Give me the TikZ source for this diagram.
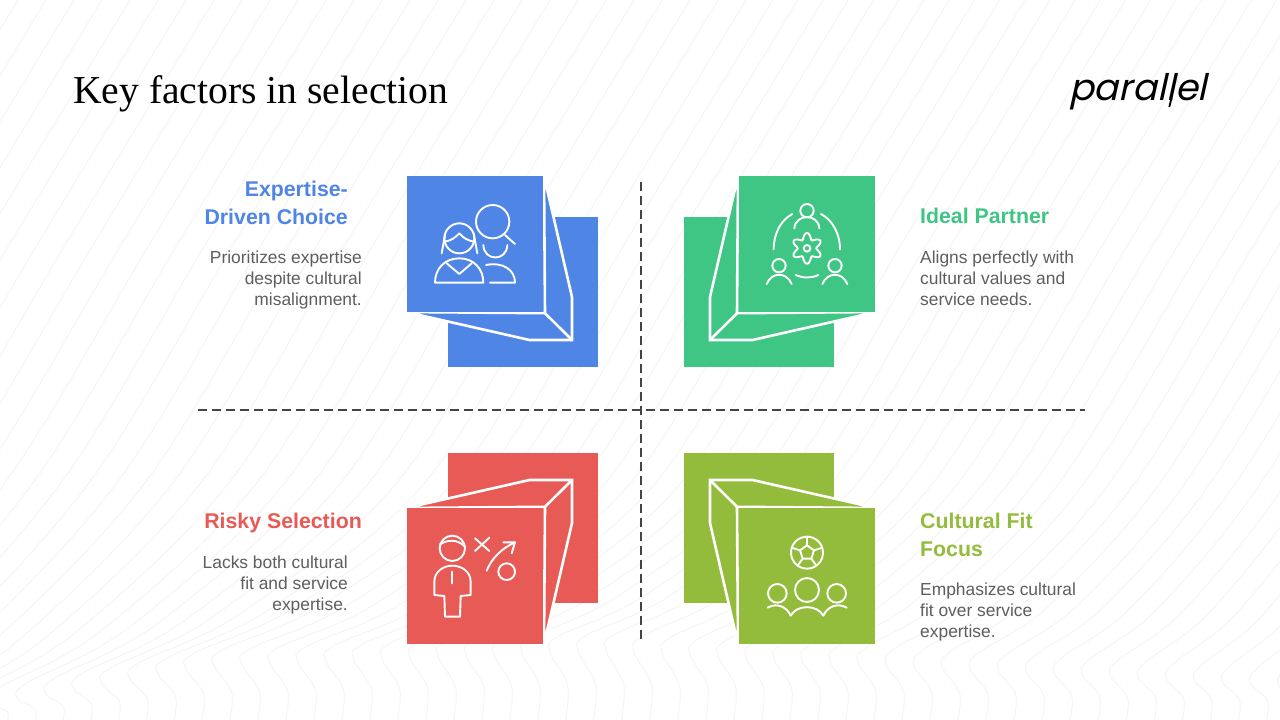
\documentclass[tikz,border=0pt]{standalone}
\usepackage{fontspec}
\setmainfont{Liberation Sans}
\newfontfamily\titlef{Liberation Serif}
\newfontfamily\logof[FakeSlant=0.22]{Poppins}
\definecolor{cblue}{HTML}{4F86E6}
\definecolor{cgreen}{HTML}{3FC584}
\definecolor{cred}{HTML}{E85A55}
\definecolor{colive}{HTML}{94BC3C}
\definecolor{ctext}{HTML}{5E5E5E}
\definecolor{cdash}{HTML}{444444}
\definecolor{cbg}{HTML}{F3F3F3}
\tikzset{
  headtext/.style={inner sep=0pt,font=\fontsize{21.3}{27.5}\selectfont\bfseries},
  bodytext/.style={inner sep=0pt,text=ctext,font=\fontsize{17.4}{21}\selectfont},
  dashline/.style={draw=cdash,line width=2pt,dash pattern=on 8.5pt off 5.5pt},
  edgeline/.style={draw=white,line width=2.6pt,line join=miter},
  iconline/.style={draw=white,line width=1.9pt,line cap=round,line join=round},
  bgline/.style={draw=cbg,line width=0.8pt},
  zoomA/.style={shift={(400,170)},x=0.33333pt,y=-0.33333pt},
  zoomB/.style={shift={(675,170)},x=0.33333pt,y=-0.33333pt},
  zoomC/.style={shift={(400,445)},x=0.33333pt,y=-0.33333pt},
  zoomD/.style={shift={(675,445)},x=0.33333pt,y=-0.33333pt},
}
\newcommand{\cubeshape}[1]{%
  \fill[#1] (448.3,217.3) rectangle (598.3,367.3);
  \path[fill=#1,edgeline] (544,176) -- (572,297) -- (572,340) -- (529.5,340) -- (406,312) -- (545,313.2) -- cycle;
  \draw[edgeline,line cap=round] (545,313.2) -- (572,340);
  \fill[#1] (406.8,175.8) rectangle (543.4,311.8);
}
\begin{document}
\begin{tikzpicture}[x=1pt,y=-1pt]
\useasboundingbox (0,0) rectangle (1280,720);
\fill[white] (0,0) rectangle (1280,720);
% background contour lines
\begin{scope}
\clip (0,0) rectangle (1280,720);
\foreach \k in {-21,...,45}{
  \pgfmathsetmacro{\tx}{17+28*\k}
  \pgfmathsetmacro{\ty}{\tx<200?(692-0.18*\tx):(\tx<600?(656-0.04*(\tx-200)):(640+0.05*(\tx-600)))}
  \pgfmathsetmacro{\off}{\tx<200?270:(270-0.1*(\tx-200))}
  \draw[bgline] plot[smooth,tension=0.55] coordinates {
    ({\tx+14},735) ({\tx+19},{(\ty+720)/2+6}) ({\tx+1},{\ty+10}) ({\tx+10},{\ty-6})
    ({\tx+0.42*\off},{\ty-0.3*(\ty-480)}) ({\tx+\off},480)
    ({\tx+\off+145},240) ({\tx+\off+291},0) ({\tx+\off+310},-30)};
}
\end{scope}
% title and logo
\node[anchor=base west,inner sep=0pt,font=\fontsize{39.6}{42}\titlef] (title) at (73,103.5) {Key factors in selection};
\node[anchor=base west,inner sep=0pt,font=\fontsize{36.6}{40}\logof] (logo) at (1069,100) {parallel};
\coordinate (lgA) at (1171.5,98); \coordinate (lgB) at (1169.3,107);
\draw[black,line width=1.8pt] (lgA) -- (lgB);
% dashed axes
\coordinate (hl) at (198,410); \coordinate (hr) at (1085,410);
\coordinate (vt) at (641,182); \coordinate (vb) at (641,640);
\draw[dashline] (hl) -- (hr);
\draw[dashline] (vt) -- (vb);
% cubes
\begin{scope}\cubeshape{cblue}\end{scope}
\begin{scope}[xshift=1282pt,xscale=-1]\cubeshape{cgreen}\end{scope}
\begin{scope}[yshift=-820pt,yscale=-1]\cubeshape{cred}\end{scope}
\begin{scope}[xshift=1282pt,xscale=-1,yshift=-820pt,yscale=-1]\cubeshape{colive}\end{scope}
% blue icon
\begin{scope}[zoomA]
  \draw[iconline] (178,205) circle (45);
  \draw[iconline] (135,215) .. controls (150,212) and (165,205) .. (178,190) .. controls (190,205) and (205,212) .. (222,215);
  \draw[iconline] (136,190) -- (125,250);
  \draw[iconline] (221,190) -- (232,250);
  \draw[iconline] (105,338) -- (250,338) .. controls (250,295) and (220,265) .. (178,265) .. controls (135,265) and (105,295) .. (105,338);
  \draw[iconline] (140,280) -- (178,312) -- (215,280);
  \draw[iconline] (278,155) circle (50);
  \draw[iconline] (315,195) -- (345,222);
  \draw[iconline] (250,225) .. controls (252,275) and (320,275) .. (322,225);
  \draw[iconline] (258,285) .. controls (310,275) and (345,300) .. (345,338) -- (270,338);
\end{scope}
% green icon
\begin{scope}[zoomB]
  \draw[iconline] (396,122) circle (20);
  \draw[iconline] (358,175) .. controls (362,130) and (430,130) .. (433,175);
  \draw[iconline] (312,287) circle (20);
  \draw[iconline] (275,342) .. controls (290,305) and (335,305) .. (350,342);
  \draw[iconline] (480,287) circle (20);
  \draw[iconline] (442,342) .. controls (457,305) and (502,305) .. (517,342);
  \draw[iconline] (352,132) .. controls (318,150) and (296,190) .. (296,238);
  \draw[iconline] (438,132) .. controls (472,150) and (495,190) .. (495,238);
  \draw[iconline] (362,315) .. controls (385,325) and (408,325) .. (430,315);
  \draw[iconline] plot[smooth cycle,domain=0:357,samples=120] ({396+(37-9*cos(6*\x))*cos(\x)},{235+(37-9*cos(6*\x))*sin(\x)});
  \draw[iconline] (396,235) circle (10);
\end{scope}
% red icon
\begin{scope}[zoomC]
  \draw[iconline] (157,310) circle (38);
  \draw[iconline] (120,298) .. controls (140,285) and (170,280) .. (195,305);
  \draw[iconline] (103,450) -- (133,453) -- (135,515) -- (180,515) -- (182,453) -- (212,450) -- (212,410) .. controls (212,380) and (185,362) .. (157,362) .. controls (130,362) and (103,380) .. (103,410) -- cycle;
  \draw[iconline] (157,380) -- (157,415);
  \draw[iconline] (225,280) -- (268,318);
  \draw[iconline] (268,278) -- (225,318);
  \draw[iconline] (260,377) .. controls (275,340) and (305,310) .. (345,292);
  \draw[iconline] (310,292) -- (345,292) -- (335,325);
  \draw[iconline] (320,380) circle (25);
\end{scope}
% olive icon
\begin{scope}[zoomD]
  \draw[iconline] (396,323) circle (48);
  \draw[iconline] (396,301) -- (417,316) -- (409,341) -- (383,341) -- (375,316) -- cycle;
  \draw[iconline] (396,301) -- (396,275);
  \draw[iconline] (417,316) -- (442,308);
  \draw[iconline] (409,341) -- (424,362);
  \draw[iconline] (383,341) -- (368,362);
  \draw[iconline] (375,316) -- (350,308);
  \draw[iconline] (396,435) circle (36);
  \draw[iconline] (307,445) circle (28);
  \draw[iconline] (485,445) circle (28);
  \draw[iconline] (278,488) .. controls (305,472) and (335,485) .. (347,512) .. controls (365,478) and (427,478) .. (445,512) .. controls (457,485) and (487,472) .. (515,488);
\end{scope}
% texts
\node[headtext,text=cblue,align=right,anchor=north east] (h1) at (348,181) {Expertise-\\Driven Choice};
\node[bodytext,align=right,anchor=north east] (b1) at (362,251) {Prioritizes expertise\\despite cultural\\misalignment.};
\node[headtext,text=cgreen,align=left,anchor=north west] (h2) at (920,208) {Ideal Partner};
\node[bodytext,align=left,anchor=north west] (b2) at (920,251) {Aligns perfectly with\\cultural values and\\service needs.};
\node[headtext,text=cred,align=right,anchor=north east] (h3) at (362,513) {Risky Selection};
\node[bodytext,align=right,anchor=north east] (b3) at (348,556) {Lacks both cultural\\fit and service\\expertise.};
\node[headtext,text=colive,align=left,anchor=north west] (h4) at (920,513) {Cultural Fit\\Focus};
\node[bodytext,align=left,anchor=north west] (b4) at (920,583) {Emphasizes cultural\\fit over service\\expertise.};
\end{tikzpicture}
\end{document}
